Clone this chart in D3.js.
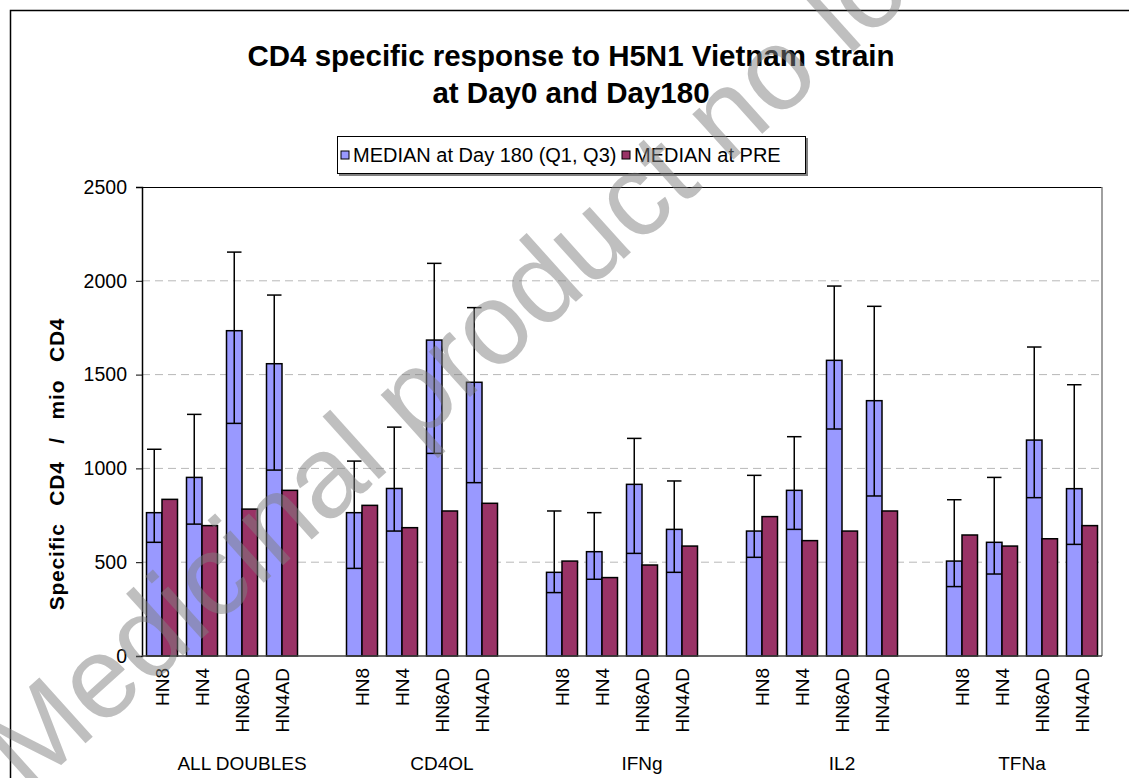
<!DOCTYPE html>
<html>
<head>
<meta charset="utf-8">
<script src="https://cdn.jsdelivr.net/npm/d3@7"></script>
<style>
  body { margin: 0; background: #fff; }
  svg { display: block; font-family: Arial, "Liberation Sans", sans-serif; }
</style>
</head>
<body>
<div id="chart"></div>
<script>
// chart data
const groups = ["ALL DOUBLES", "CD4OL", "IFNg", "IL2", "TFNa"]
const subjects = ["HN8", "HN4", "HN8AD", "HN4AD"]
// median at day 180, one value per group x subject
const median180 = [764, 952, 1734, 1558,  764, 893, 1684, 1459,  446, 556, 915, 675,  666, 883, 1576, 1361,  506, 606, 1151, 892]
const q1_180    = [606, 703, 1240, 991,   467, 666, 1080, 924,   338, 409, 547, 446,  526, 675, 1210, 853,   370, 437, 844, 595]
const q3_180    = [1102, 1288, 2153, 1924, 1039, 1220, 2093, 1857, 773, 764, 1160, 933, 963, 1169, 1972, 1864, 833, 952, 1647, 1446]
const medianPre = [835, 695, 783, 883,   803, 684, 773, 814,   506, 418, 485, 586,  743, 615, 666, 773,   645, 586, 625, 695]
const yTicks = [0, 500, 1000, 1500, 2000, 2500]
const seriesNames = ["MEDIAN at Day 180 (Q1, Q3)", "MEDIAN at PRE"]
const colors = { d180: "#9999ff", pre: "#993366" }

// dimensions
const margin = { top: 187, right: 27, bottom: 122, left: 142 }
const W = 1129, H = 778
const width = W - margin.left - margin.right
const height = H - margin.top - margin.bottom

const svg = d3.select("#chart").append("svg")
    .attr("width", W)
    .attr("height", H)

// outer frame of the chart (goes off the page on right and bottom)
svg.append("rect")
    .attr("x", 10.5).attr("y", 10.5)
    .attr("width", 1140).attr("height", 800)
    .style("fill", "none").style("stroke", "#000").style("stroke-width", 1.5)

// title
svg.append("text")
    .attr("x", 571).attr("y", 66)
    .attr("text-anchor", "middle")
    .style("font-size", "29.5px").style("font-weight", "bold")
    .text("CD4 specific response to H5N1 Vietnam strain")
svg.append("text")
    .attr("x", 571).attr("y", 103)
    .attr("text-anchor", "middle")
    .style("font-size", "29.5px").style("font-weight", "bold")
    .text("at Day0 and Day180")

// build the rows: 4 subjects per group, a blank slot between groups
const rows = []
const slots = []
groups.forEach(function (g, gi) {
    subjects.forEach(function (s, si) {
        const i = gi * subjects.length + si
        const id = g + "|" + s
        slots.push(id)
        rows.push({ id: id, group: g, subject: s, med: median180[i], q1: q1_180[i], q3: q3_180[i], pre: medianPre[i] })
    })
    if (gi < groups.length - 1) slots.push("blank" + gi)
})

const g = svg.append("g")
    .attr("transform", "translate(" + margin.left + "," + margin.top + ")")

const x = d3.scaleBand().domain(slots).range([0, width]).padding(0)
const xInner = d3.scaleBand().domain(["d180", "pre"]).range([0, x.bandwidth()]).paddingInner(0).paddingOuter(0.29)
const y = d3.scaleLinear().domain([0, 2500]).range([height, 0])

// grid lines
g.selectAll("line.grid")
    .data(yTicks.filter(function (d) { return d > 0 && d < 2500 }))
    .enter().append("line")
    .attr("class", "grid")
    .attr("x1", 0).attr("x2", width)
    .attr("y1", function (d) { return y(d) }).attr("y2", function (d) { return y(d) })
    .style("stroke", "#b8b8b8").style("stroke-width", 1)
    .style("stroke-dasharray", "8 5")

// plot area border (top and right)
g.append("line").attr("x1", 0).attr("x2", width).attr("y1", 0.5).attr("y2", 0.5)
    .style("stroke", "#000").style("stroke-width", 1.2)
g.append("line").attr("x1", width).attr("x2", width).attr("y1", 0).attr("y2", height)
    .style("stroke", "#808080").style("stroke-width", 1.5)

// bars
const cat = g.selectAll(".cat")
    .data(rows)
    .enter().append("g")
    .attr("class", "cat")
    .attr("transform", function (d) { return "translate(" + x(d.id) + ",0)" })

cat.append("rect")
    .attr("x", xInner("d180"))
    .attr("y", function (d) { return y(d.med) })
    .attr("width", xInner.bandwidth())
    .attr("height", function (d) { return height - y(d.med) })
    .style("fill", colors.d180).style("stroke", "#000").style("stroke-width", 1.5)

cat.append("rect")
    .attr("x", xInner("pre"))
    .attr("y", function (d) { return y(d.pre) })
    .attr("width", xInner.bandwidth())
    .attr("height", function (d) { return height - y(d.pre) })
    .style("fill", colors.pre).style("stroke", "#000").style("stroke-width", 1.5)

// error bars (Q1 - Q3) on the day 180 bar
const capW = xInner.bandwidth() - 1
const cx = xInner("d180") + xInner.bandwidth() / 2
cat.append("line")
    .attr("x1", cx).attr("x2", cx)
    .attr("y1", function (d) { return y(d.q1) })
    .attr("y2", function (d) { return y(d.q3) })
    .style("stroke", "#000").style("stroke-width", 1.5)
cat.append("line")
    .attr("x1", cx - capW / 2).attr("x2", cx + capW / 2)
    .attr("y1", function (d) { return y(d.q3) })
    .attr("y2", function (d) { return y(d.q3) })
    .style("stroke", "#000").style("stroke-width", 1.5)
cat.append("line")
    .attr("x1", cx - capW / 2).attr("x2", cx + capW / 2)
    .attr("y1", function (d) { return y(d.q1) })
    .attr("y2", function (d) { return y(d.q1) })
    .style("stroke", "#000").style("stroke-width", 1.5)

// y axis
const yAxis = d3.axisLeft(y).tickValues(yTicks).tickFormat(d3.format("d")).tickSize(6).tickPadding(9)
g.append("g")
    .attr("class", "y axis")
    .call(yAxis)
    .call(function (a) {
        a.selectAll("text").style("font-size", "19.5px").style("font-family", "Arial, 'Liberation Sans', sans-serif").style("fill", "#000")
        a.select(".domain").style("stroke-width", 1.5)
    })

// x axis line
g.append("line").attr("x1", 0).attr("x2", width).attr("y1", height).attr("y2", height)
    .style("stroke", "#404040").style("stroke-width", 1.5)

// subject labels, rotated
g.selectAll(".xlab")
    .data(rows)
    .enter().append("text")
    .attr("class", "xlab")
    .attr("transform", function (d) { return "translate(" + (x(d.id) + x.bandwidth() / 2) + "," + (height + 12) + ") rotate(-90)" })
    .attr("text-anchor", "end")
    .attr("dy", "0.36em")
    .style("font-size", "19px")
    .text(function (d) { return d.subject })

// group labels centered under their slots (with the blank after it)
g.selectAll(".glab")
    .data(groups)
    .enter().append("text")
    .attr("class", "glab")
    .attr("x", function (grp, gi) {
        const first = x(grp + "|" + subjects[0])
        const lastId = gi < groups.length - 1 ? "blank" + gi : grp + "|" + subjects[subjects.length - 1]
        return (first + x(lastId) + x.bandwidth()) / 2
    })
    .attr("y", height + 114)
    .attr("text-anchor", "middle")
    .style("font-size", "19px")
    .text(function (d) { return d })

// y axis title
svg.append("text")
    .attr("transform", "translate(64,464) rotate(-90)")
    .attr("text-anchor", "middle")
    .style("font-size", "21px").style("font-weight", "bold")
    .style("letter-spacing", "0.8px").style("word-spacing", "11px")
    .text("Specific CD4 / mio CD4")

// legend
const legend = svg.append("g").attr("transform", "translate(337,136)")
legend.append("rect")
    .attr("x", 2).attr("y", 2).attr("width", 469).attr("height", 38)
    .style("fill", "#808080")
legend.append("rect")
    .attr("x", 0.5).attr("y", 0.5).attr("width", 468).attr("height", 37)
    .style("fill", "#fff").style("stroke", "#000").style("stroke-width", 1)
const legendX = [4, 285]
const legendKeys = ["d180", "pre"]
legendKeys.forEach(function (k, i) {
    legend.append("rect")
        .attr("x", legendX[i]).attr("y", 15)
        .attr("width", 8).attr("height", 8)
        .style("fill", colors[k]).style("stroke", "#000").style("stroke-width", 1)
    legend.append("text")
        .attr("x", legendX[i] + 12).attr("y", 26)
        .style("font-size", "20px")
        .text(seriesNames[i])
})

// watermark on top of everything
svg.append("text")
    .attr("transform", "translate(28,795) rotate(-42)")
    .style("font-size", "116px")
    .style("fill", "#808080")
    .style("opacity", 0.5)
    .style("pointer-events", "none")
    .text("Medicinal product no longer authorised")
</script>
</body>
</html>
